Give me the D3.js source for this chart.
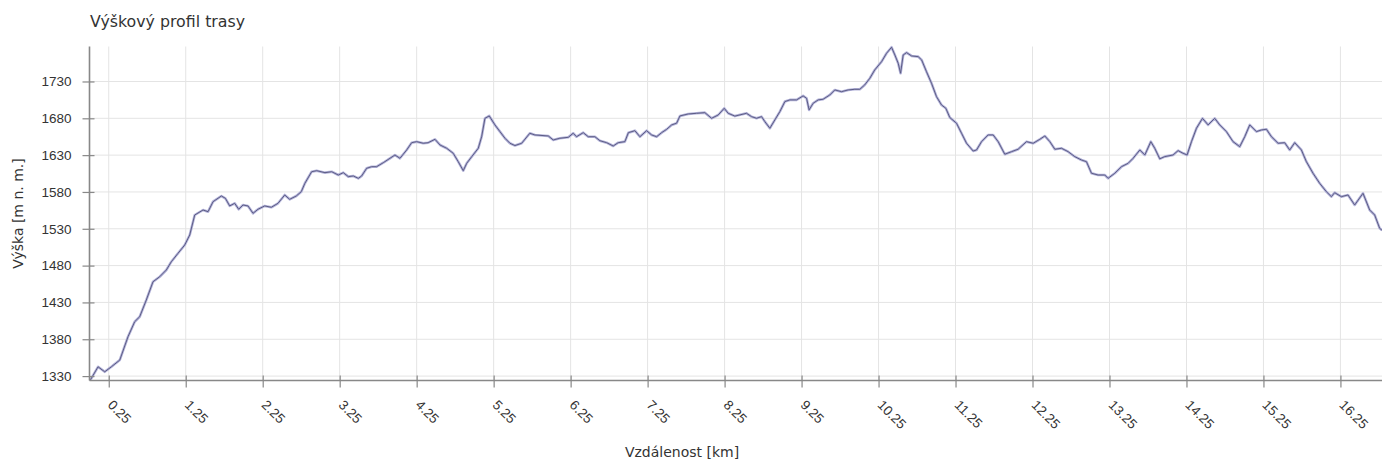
<!DOCTYPE html>
<html>
<head>
<meta charset="utf-8">
<script src="https://cdn.jsdelivr.net/npm/d3@7"></script>
<style>
  html, body { margin: 0; padding: 0; background: #fff; }
  svg { display: block; font-family: "DejaVu Sans", sans-serif; }
</style>
</head>
<body>
<svg id="chart" width="1382" height="462"></svg>
<script>
const chartTitle = "Výškový profil trasy";
const xTitle = "Vzdálenost [km]";
const yTitle = "Výška [m n. m.]";

const distKm = [0, 0.016, 0.111, 0.198, 0.284, 0.393, 0.50, 0.587, 0.652, 0.738, 0.825, 0.912, 0.998, 1.063, 1.15, 1.237, 1.302, 1.367, 1.475, 1.54, 1.605, 1.713, 1.765, 1.821, 1.886, 1.938, 1.994, 2.059, 2.124, 2.189, 2.276, 2.362, 2.449, 2.536, 2.60, 2.686, 2.751, 2.798, 2.886, 2.951, 3.059, 3.146, 3.232, 3.297, 3.362, 3.427, 3.492, 3.535, 3.60, 3.665, 3.73, 3.816, 3.903, 3.968, 4.033, 4.12, 4.185, 4.25, 4.336, 4.40, 4.488, 4.553, 4.64, 4.725, 4.79, 4.855, 4.9, 4.965, 5.05, 5.094, 5.137, 5.193, 5.267, 5.332, 5.397, 5.462, 5.527, 5.614, 5.72, 5.786, 5.96, 6.024, 6.11, 6.22, 6.283, 6.327, 6.414, 6.479, 6.566, 6.63, 6.718, 6.803, 6.868, 6.955, 7.0, 7.085, 7.15, 7.237, 7.302, 7.367, 7.432, 7.497, 7.562, 7.627, 7.67, 7.778, 7.886, 7.994, 8.081, 8.167, 8.245, 8.297, 8.384, 8.535, 8.60, 8.665, 8.73, 8.773, 8.838, 8.903, 8.968, 9.033, 9.098, 9.185, 9.27, 9.315, 9.348, 9.4, 9.466, 9.53, 9.617, 9.682, 9.769, 9.855, 9.942, 10.007, 10.07, 10.137, 10.2, 10.289, 10.354, 10.419, 10.462, 10.505, 10.536, 10.57, 10.614, 10.679, 10.765, 10.81, 10.873, 10.938, 11.003, 11.068, 11.124, 11.176, 11.263, 11.328, 11.393, 11.479, 11.523, 11.588, 11.674, 11.739, 11.804, 11.89, 11.977, 12.063, 12.172, 12.258, 12.345, 12.41, 12.475, 12.54, 12.627, 12.713, 12.80, 12.886, 12.951, 13.016, 13.102, 13.189, 13.232, 13.319, 13.406, 13.492, 13.557, 13.644, 13.709, 13.787, 13.838, 13.903, 13.968, 14.076, 14.141, 14.206, 14.258, 14.315, 14.38, 14.458, 14.531, 14.617, 14.682, 14.769, 14.855, 14.942, 15.007, 15.072, 15.159, 15.224, 15.289, 15.354, 15.44, 15.526, 15.591, 15.656, 15.743, 15.808, 15.894, 15.98, 16.067, 16.132, 16.175, 16.262, 16.348, 16.435, 16.543, 16.63, 16.695, 16.76, 16.79];

const elevM = [1325, 1325.5, 1342.6, 1335.8, 1342.6, 1351.7, 1383.4, 1403.8, 1410.6, 1433.3, 1458.1, 1464.9, 1474, 1485.3, 1496.7, 1508, 1521.6, 1548.7, 1555.5, 1553.2, 1566.8, 1574.5, 1571.4, 1561, 1564.6, 1556.5, 1562.3, 1561, 1551, 1556.5, 1561, 1559.2, 1564.6, 1575.9, 1570, 1574.5, 1580.4, 1591.8, 1607.5, 1608.9, 1606.2, 1607.5, 1603, 1606.2, 1600.8, 1601.7, 1598.5, 1601.7, 1612.1, 1614.3, 1614.3, 1619.7, 1625.7, 1630.2, 1625.7, 1637, 1646.9, 1648.3, 1646.1, 1646.9, 1651.5, 1643.8, 1639.3, 1632.5, 1621.1, 1608.9, 1618.9, 1627.9, 1639.3, 1655, 1680, 1683.2, 1671, 1661.9, 1652.9, 1646.1, 1643, 1646.1, 1659.7, 1657.4, 1656, 1650.6, 1652.9, 1654.2, 1659.7, 1655, 1660.5, 1655, 1655, 1649.6, 1646.9, 1642.4, 1646.9, 1648.3, 1660.5, 1663.2, 1655, 1663.2, 1657.4, 1655, 1660.5, 1665, 1671, 1673.4, 1683.2, 1685.9, 1686.8, 1687.7, 1680, 1684.5, 1693.6, 1686.8, 1683, 1686.8, 1682.3, 1680, 1682.3, 1675.5, 1666.5, 1677.8, 1689.1, 1702.7, 1705, 1705, 1710.4, 1707.2, 1691.4, 1700.4, 1705, 1705.9, 1711.7, 1718.5, 1716.2, 1718.5, 1719.4, 1719.4, 1725.3, 1734.4, 1745.6, 1756.9, 1768.3, 1776.5, 1766, 1754.8, 1741.2, 1766, 1769.2, 1764.7, 1763.7, 1759.2, 1743.3, 1727.6, 1709.4, 1698.1, 1693.6, 1681, 1673.3, 1659.7, 1646.1, 1635.6, 1637, 1648.3, 1657.4, 1657.4, 1648.3, 1631.2, 1634.7, 1638, 1648.3, 1646.1, 1651.5, 1656, 1648.3, 1638, 1639.3, 1634.7, 1627.9, 1623.4, 1621.1, 1605.4, 1603, 1603, 1598.5, 1605.4, 1614.3, 1618.9, 1625.7, 1637, 1630.2, 1648.3, 1639.3, 1625, 1628, 1630.2, 1636.1, 1632.5, 1630.2, 1648.3, 1666.5, 1680, 1671, 1680, 1671, 1661.9, 1648.3, 1641.5, 1655, 1671, 1661.9, 1664.2, 1665.1, 1655, 1646.1, 1646.9, 1637, 1646.9, 1637, 1621.1, 1605.4, 1591.8, 1580.4, 1573.6, 1579, 1573.6, 1575.9, 1562.3, 1578.2, 1555.5, 1548.7, 1530.6, 1528];

const xTickValues = [0.25, 1.25, 2.25, 3.25, 4.25, 5.25, 6.25, 7.25, 8.25, 9.25, 10.25, 11.25, 12.25, 13.25, 14.25, 15.25, 16.25];
const yTickValues = [1330, 1380, 1430, 1480, 1530, 1580, 1630, 1680, 1730];

const plot = { left: 89.5, right: 1382, top: 46.5, bottom: 380.5 };
const svg = d3.select("#chart");

const x = d3.scaleLinear().domain([0, 16.79]).range([plot.left, plot.right]);
const y = d3.scaleLinear().domain([1324, 1777.5]).range([plot.bottom, plot.top]);

// gridlines
const grid = svg.append("g").attr("class", "grid");
grid.selectAll("line.gx").data(xTickValues).join("line")
  .attr("x1", d => x(d)).attr("x2", d => x(d))
  .attr("y1", plot.top).attr("y2", plot.bottom)
  .attr("stroke", "#e4e4e4").attr("stroke-width", 1);
grid.selectAll("line.gy").data(yTickValues).join("line")
  .attr("x1", plot.left).attr("x2", plot.right)
  .attr("y1", d => y(d)).attr("y2", d => y(d))
  .attr("stroke", "#e4e4e4").attr("stroke-width", 1);

// line
const pts = distKm.map((d, i) => [d, elevM[i]]);
const line = d3.line().x(d => x(d[0])).y(d => y(d[1]));
svg.append("path").datum(pts).attr("d", line)
  .attr("fill", "none").attr("stroke", "#b4b4da").attr("stroke-width", 2.6)
  .attr("stroke-linejoin", "round");
svg.append("path").datum(pts).attr("d", line)
  .attr("fill", "none").attr("stroke", "#5c5c84").attr("stroke-width", 1.0)
  .attr("stroke-linejoin", "round");

// y axis
const yAxis = svg.append("g").attr("transform", `translate(${plot.left},0)`)
  .call(d3.axisLeft(y).tickValues(yTickValues).tickFormat(d3.format("d")).tickSize(7).tickSizeOuter(0).tickPadding(11));
yAxis.select(".domain").attr("stroke", "#888").attr("stroke-width", 1.6)
  .attr("d", `M0,${plot.top}V${plot.bottom}`);
yAxis.selectAll(".tick line").attr("stroke", "#888").attr("stroke-width", 1.2).attr("x2", -7);
yAxis.selectAll(".tick").append("line").attr("x1", 0).attr("x2", 5).attr("stroke", "#888").attr("stroke-width", 1.2);
yAxis.selectAll(".tick text").attr("fill", "#333").style("font-size", "13.5px");

// x axis
const xAxis = svg.append("g").attr("transform", `translate(0,${plot.bottom})`)
  .call(d3.axisBottom(x).tickValues(xTickValues).tickFormat(d3.format(".2f")).tickSize(7).tickSizeOuter(0));
xAxis.select(".domain").attr("stroke", "#888").attr("stroke-width", 1.6)
  .attr("d", `M${plot.left},0H${plot.right}`);
xAxis.selectAll(".tick line").attr("stroke", "#888").attr("stroke-width", 1.2);
xAxis.selectAll(".tick").append("line").attr("y1", 0).attr("y2", -5).attr("stroke", "#888").attr("stroke-width", 1.2);
xAxis.selectAll(".tick text")
  .attr("fill", "#333").style("font-size", "13.5px")
  .attr("text-anchor", "start").attr("x", 0).attr("y", 0).attr("dy", "0.35em")
  .attr("transform", "translate(1,22) rotate(45)");

// titles
svg.append("text").attr("x", 90).attr("y", 27).text(chartTitle)
  .attr("fill", "#333").style("font-size", "15.8px");
svg.append("text").attr("x", 682).attr("y", 457).attr("text-anchor", "middle").text(xTitle)
  .attr("fill", "#333").style("font-size", "14px");
svg.append("text").attr("transform", `translate(23,213.5) rotate(-90)`).attr("text-anchor", "middle").text(yTitle)
  .attr("fill", "#333").style("font-size", "14px");
</script>
</body>
</html>
